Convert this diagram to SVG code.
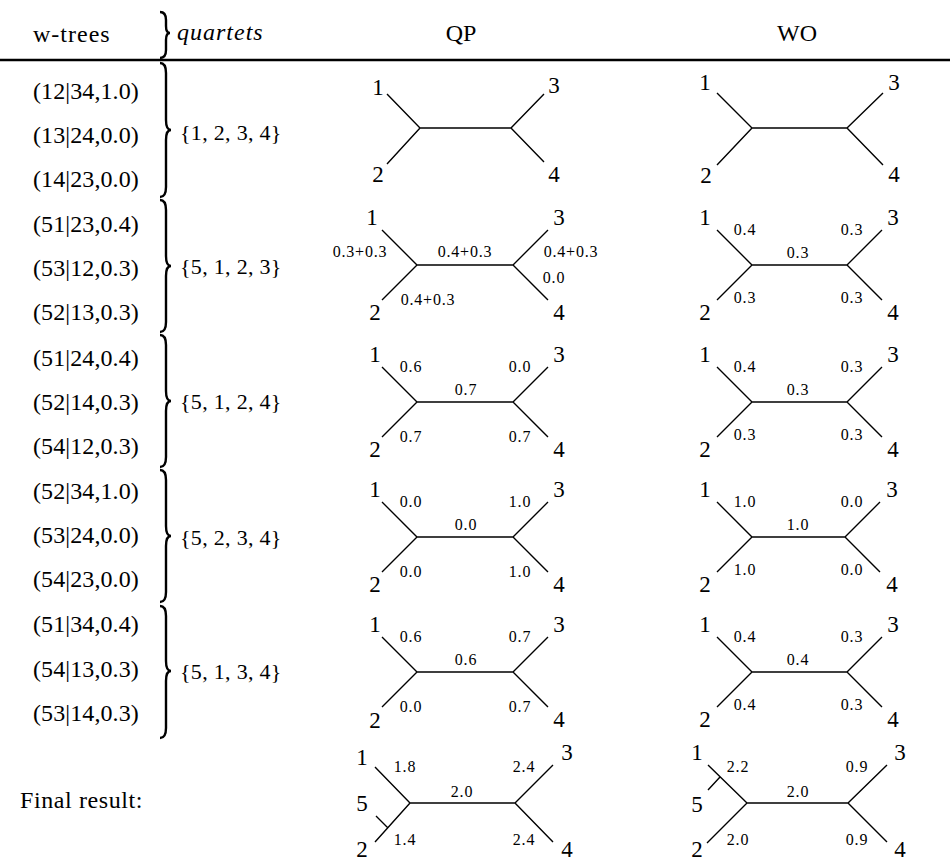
<svg xmlns="http://www.w3.org/2000/svg" width="950" height="863" viewBox="0 0 950 863" font-family="Liberation Serif">
<style>
.t,.r,.q,.n,.s{font-family:'Liberation Serif',serif;fill:#000}
.t{font-size:24px}
.r{font-size:24px;letter-spacing:0.1px}
.q{font-size:22px;letter-spacing:0.3px}
.n{font-size:23px;text-anchor:middle}
.s{font-size:16px;letter-spacing:0.8px;text-anchor:middle}
.m{text-anchor:middle}
.e{fill:none;stroke:#000;stroke-width:1.4}
.b{fill:none;stroke:#000;stroke-width:2.4}
</style>
<rect width="950" height="863" fill="#fff"/>

<g id="header">
<text class="t" x="33" y="42" style="letter-spacing:1px">w-trees</text>
<path class="b" d="M160,12 Q166,12 166,20 L166,26 Q166,33 170,33 Q166,33 166,40 L166,50 Q166,58 160,58"/>
<text class="t" x="177" y="40" font-style="italic" style="letter-spacing:1px">quartets</text>
<text class="t m" x="461" y="41">QP</text>
<text class="t m" x="797" y="41">WO</text>
<line x1="0" y1="60" x2="950" y2="60" stroke="#000" stroke-width="2.6"/>
</g>

<g id="wtrees">
<text class="r" x="33" y="99">(12|34,1.0)</text>
<text class="r" x="33" y="143">(13|24,0.0)</text>
<text class="r" x="33" y="187">(14|23,0.0)</text>
<text class="r" x="33" y="232">(51|23,0.4)</text>
<text class="r" x="33" y="276">(53|12,0.3)</text>
<text class="r" x="33" y="320">(52|13,0.3)</text>
<text class="r" x="33" y="366">(51|24,0.4)</text>
<text class="r" x="33" y="410">(52|14,0.3)</text>
<text class="r" x="33" y="454">(54|12,0.3)</text>
<text class="r" x="33" y="499">(52|34,1.0)</text>
<text class="r" x="33" y="543">(53|24,0.0)</text>
<text class="r" x="33" y="587">(54|23,0.0)</text>
<text class="r" x="33" y="632">(51|34,0.4)</text>
<text class="r" x="33" y="677">(54|13,0.3)</text>
<text class="r" x="33" y="721">(53|14,0.3)</text>
<text class="t" x="20" y="808" style="letter-spacing:0.6px">Final result:</text>
</g>

<g id="braces">
<path class="b" d="M160,63 Q166,63 166,73 L166,120 Q166,130 171,130 Q166,130 166,140 L166,187 Q166,197 160,197"/>
<path class="b" d="M160,200 Q166,200 166,210 L166,256 Q166,266 171,266 Q166,266 166,276 L166,322 Q166,332 160,332"/>
<path class="b" d="M160,335 Q166,335 166,345 L166,391 Q166,401 171,401 Q166,401 166,411 L166,457 Q166,467 160,467"/>
<path class="b" d="M160,470 Q166,470 166,480 L166,526 Q166,536 171,536 Q166,536 166,546 L166,592 Q166,602 160,602"/>
<path class="b" d="M160,606 Q166,606 166,616 L166,661 Q166,671 171,671 Q166,671 166,681 L166,728 Q166,738 160,738"/>
</g>

<g id="quartets">
<text class="q" x="180" y="140">{1, 2, 3, 4}</text>
<text class="q" x="180" y="274">{5, 1, 2, 3}</text>
<text class="q" x="180" y="409">{5, 1, 2, 4}</text>
<text class="q" x="180" y="545">{5, 2, 3, 4}</text>
<text class="q" x="180" y="679">{5, 1, 3, 4}</text>
</g>

<g id="qp1">
<path class="e" d="M387,94 L420,128 L387,164 M420,128 H511 M544,94 L511,128 L544,162"/>
<text class="n" x="378" y="95">1</text><text class="n" x="378" y="182">2</text>
<text class="n" x="554" y="93">3</text><text class="n" x="554" y="182">4</text>
</g>
<g id="wo1">
<path class="e" d="M717,93 L752,128 L717,165 M752,128 H847 M883,93 L847,128 L883,165"/>
<text class="n" x="705" y="90">1</text><text class="n" x="706" y="183">2</text>
<text class="n" x="894" y="90">3</text><text class="n" x="894" y="182">4</text>
</g>

<g id="qp2">
<path class="e" d="M382,230 L417,265 L382,300 M417,265 H513 M548,230 L513,265 L548,300"/>
<text class="n" x="372" y="225">1</text><text class="n" x="375" y="320">2</text>
<text class="n" x="559" y="225">3</text><text class="n" x="559" y="320">4</text>
<text class="s" x="360" y="257">0.3+0.3</text>
<text class="s" x="465" y="257">0.4+0.3</text>
<text class="s" x="571" y="257">0.4+0.3</text>
<text class="s" x="554" y="283">0.0</text>
<text class="s" x="428" y="305">0.4+0.3</text>
</g>
<g id="wo2">
<path class="e" d="M717,230 L752,265 L717,300 M752,265 H847 M882,230 L847,265 L882,300"/>
<text class="n" x="705" y="225">1</text><text class="n" x="705" y="320">2</text>
<text class="n" x="893" y="225">3</text><text class="n" x="893" y="320">4</text>
<text class="s" x="745" y="235">0.4</text><text class="s" x="798" y="258">0.3</text>
<text class="s" x="852" y="235">0.3</text><text class="s" x="745" y="303">0.3</text>
<text class="s" x="852" y="303">0.3</text>
</g>

<g id="qp3">
<path class="e" d="M382,367 L417,402 L382,437 M417,402 H513 M548,367 L513,402 L548,437"/>
<text class="n" x="375" y="362">1</text><text class="n" x="375" y="457">2</text>
<text class="n" x="559" y="362">3</text><text class="n" x="559" y="457">4</text>
<text class="s" x="411" y="372">0.6</text><text class="s" x="466" y="395">0.7</text>
<text class="s" x="520" y="372">0.0</text><text class="s" x="411" y="442">0.7</text>
<text class="s" x="520" y="442">0.7</text>
</g>
<g id="wo3">
<path class="e" d="M717,367 L752,402 L717,437 M752,402 H847 M882,367 L847,402 L882,437"/>
<text class="n" x="705" y="362">1</text><text class="n" x="705" y="457">2</text>
<text class="n" x="893" y="362">3</text><text class="n" x="893" y="457">4</text>
<text class="s" x="745" y="372">0.4</text><text class="s" x="798" y="395">0.3</text>
<text class="s" x="852" y="372">0.3</text><text class="s" x="745" y="440">0.3</text>
<text class="s" x="852" y="440">0.3</text>
</g>

<g id="qp4">
<path class="e" d="M382,502 L417,537 L382,572 M417,537 H513 M548,502 L513,537 L548,572"/>
<text class="n" x="375" y="497">1</text><text class="n" x="375" y="592">2</text>
<text class="n" x="559" y="497">3</text><text class="n" x="559" y="592">4</text>
<text class="s" x="411" y="507">0.0</text><text class="s" x="466" y="530">0.0</text>
<text class="s" x="520" y="507">1.0</text><text class="s" x="411" y="577">0.0</text>
<text class="s" x="520" y="577">1.0</text>
</g>
<g id="wo4">
<path class="e" d="M717,502 L752,537 L717,572 M752,537 H845 M880,502 L845,537 L880,572"/>
<text class="n" x="705" y="497">1</text><text class="n" x="705" y="592">2</text>
<text class="n" x="892" y="497">3</text><text class="n" x="892" y="592">4</text>
<text class="s" x="745" y="507">1.0</text><text class="s" x="798" y="530">1.0</text>
<text class="s" x="852" y="507">0.0</text><text class="s" x="745" y="575">1.0</text>
<text class="s" x="852" y="575">0.0</text>
</g>

<g id="qp5">
<path class="e" d="M382,637 L417,672 L382,707 M417,672 H513 M548,637 L513,672 L548,707"/>
<text class="n" x="375" y="632">1</text><text class="n" x="375" y="728">2</text>
<text class="n" x="559" y="632">3</text><text class="n" x="559" y="727">4</text>
<text class="s" x="411" y="642">0.6</text><text class="s" x="466" y="665">0.6</text>
<text class="s" x="520" y="642">0.7</text><text class="s" x="411" y="712">0.0</text>
<text class="s" x="520" y="712">0.7</text>
</g>
<g id="wo5">
<path class="e" d="M717,637 L752,672 L717,707 M752,672 H847 M882,637 L847,672 L882,707"/>
<text class="n" x="705" y="632">1</text><text class="n" x="705" y="727">2</text>
<text class="n" x="893" y="632">3</text><text class="n" x="893" y="727">4</text>
<text class="s" x="745" y="642">0.4</text><text class="s" x="798" y="665">0.4</text>
<text class="s" x="852" y="642">0.3</text><text class="s" x="745" y="710">0.4</text>
<text class="s" x="852" y="710">0.3</text>
</g>

<g id="qp-final">
<path class="e" d="M375,767 L410,803 L375,842 M388,828 L376,816 M410,803 H515 M553,765 L515,803 L553,842"/>
<text class="n" x="362" y="765">1</text><text class="n" x="362" y="811">5</text>
<text class="n" x="362" y="857">2</text>
<text class="n" x="567" y="760">3</text><text class="n" x="567" y="857">4</text>
<text class="s" x="405" y="772">1.8</text><text class="s" x="405" y="845">1.4</text>
<text class="s" x="462" y="797">2.0</text>
<text class="s" x="524" y="772">2.4</text><text class="s" x="524" y="845">2.4</text>
</g>
<g id="wo-final">
<path class="e" d="M708,765 L747,803 L707,843 M720,777 L708,790 M747,803 H848 M887,765 L848,803 L887,842"/>
<text class="n" x="697" y="760">1</text><text class="n" x="697" y="812">5</text>
<text class="n" x="697" y="857">2</text>
<text class="n" x="900" y="760">3</text><text class="n" x="900" y="857">4</text>
<text class="s" x="738" y="772">2.2</text><text class="s" x="738" y="845">2.0</text>
<text class="s" x="798" y="797">2.0</text>
<text class="s" x="857" y="772">0.9</text><text class="s" x="857" y="845">0.9</text>
</g>
</svg>
